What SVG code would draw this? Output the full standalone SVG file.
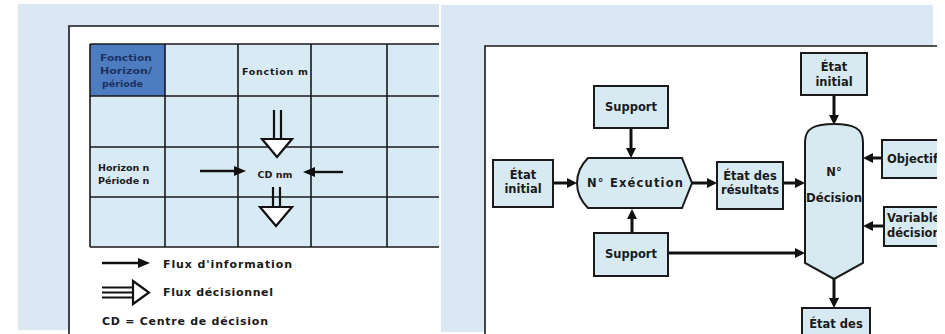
<svg xmlns="http://www.w3.org/2000/svg" width="945" height="334" viewBox="0 0 945 334">
<style>
.t{font-family:"DejaVu Sans",Verdana,sans-serif;font-weight:bold;fill:#1a1a1a}
.s8{font-size:9.5px}
.s10{font-size:11px}
.s11{font-size:11.5px}
.hd{fill:#1e3160}
.box{fill:#d7eaf2;stroke:#1a1a1a;stroke-width:2}
.grid{stroke:#1a1a1a;stroke-width:1.6;fill:none}
.ln{stroke:#111;stroke-width:3;fill:none}
.lnl{stroke:#111;stroke-width:2.4;fill:none}
.dec{stroke:#111;stroke-width:2.2;fill:none}
.tri{stroke:#111;stroke-width:2.2;fill:#ffffff}
</style>
<defs>
<marker id="ah" viewBox="0 0 10 10" markerUnits="userSpaceOnUse" markerWidth="10" markerHeight="11" refX="1" refY="5" orient="auto"><path d="M0,0 L10,5 L0,10 z" fill="#111"/></marker>
<marker id="ahs" viewBox="0 0 12 10" markerUnits="userSpaceOnUse" markerWidth="12" markerHeight="10" refX="1" refY="5" orient="auto"><path d="M0,0 L12,5 L0,10 z" fill="#111"/></marker>
<clipPath id="clipL"><rect x="0" y="0" width="439" height="334"/></clipPath>
<clipPath id="clipR"><rect x="441" y="0" width="496" height="334"/></clipPath>
</defs>
<rect width="945" height="334" fill="#ffffff"/>
<!-- Left panel -->
<g id="left-panel" clip-path="url(#clipL)">
<rect x="18" y="4" width="421" height="326" fill="#dce7f4"/>
<rect x="70" y="27" width="375" height="320" fill="#ffffff"/>
<path d="M69,340 L69,26 L445,26" fill="none" stroke="#1a1a1a" stroke-width="1.6"/>
<g id="grid">
<rect x="90" y="44" width="360" height="203" fill="#d8ebf4"/>
<rect x="90" y="44" width="75" height="52" fill="#4d7dc0"/>
<path class="grid" d="M90,44 H445 M90,96 H445 M90,147 H445 M90,197 H445 M90,247 H445 M90,44 V247 M165,44 V247 M238,44 V247 M311,44 V247 M387,44 V247"/>
</g>
<g id="header-cell">
<text class="t s8 hd" x="100" y="61" textLength="52" lengthAdjust="spacingAndGlyphs">Fonction</text>
<text class="t s8 hd" x="100" y="74" textLength="52" lengthAdjust="spacingAndGlyphs">Horizon/</text>
<text class="t s8 hd" x="102" y="87">période</text>
</g>
<g id="fonction-m"><text class="t s8" x="275" y="75" text-anchor="middle" textLength="66" lengthAdjust="spacing">Fonction m</text></g>
<g id="horizon-n">
<text class="t s8" x="98" y="171">Horizon n</text>
<text class="t s8" x="98" y="184">Période n</text>
</g>
<g id="cd-nm"><text class="t s8" x="275" y="178" text-anchor="middle">CD nm</text></g>
<g id="left-connectors">
<line class="lnl" x1="200" y1="171" x2="235" y2="171" marker-end="url(#ahs)"/>
<line class="lnl" x1="343" y1="172" x2="314" y2="172" marker-end="url(#ahs)"/>
<path class="dec" d="M274,110 V139 M281,110 V139"/>
<path class="tri" d="M262,139 H292 L277,157 Z"/>
<path class="dec" d="M273,187 V207 M280,187 V207"/>
<path class="tri" d="M260,207 H292 L276,226 Z"/>
</g>
<g id="legend">
<line class="lnl" x1="102" y1="263" x2="139" y2="263" marker-end="url(#ahs)"/>
<text class="t s10" x="163" y="268" textLength="129" lengthAdjust="spacing">Flux d'information</text>
<path class="dec" d="M102,287.5 H134 M102,292.5 H134 M102,297.5 H134"/>
<path class="tri" d="M133,281 L149,292.5 L133,304 Z"/>
<text class="t s10" x="163" y="296" textLength="110" lengthAdjust="spacing">Flux décisionnel</text>
<text class="t s10" x="102" y="325" textLength="166" lengthAdjust="spacing">CD = Centre de décision</text>
</g>
</g>
<!-- Right panel -->
<g id="right-panel" clip-path="url(#clipR)">
<rect x="441" y="5" width="492" height="327" fill="#dce7f4"/>
<rect x="485" y="46" width="460" height="300" fill="#ffffff"/>
<path d="M485,340 L485,46 L945,46" fill="none" stroke="#1a1a1a" stroke-width="1.6"/>
<g id="connectors">
<line class="ln" x1="631" y1="128" x2="631" y2="149" marker-end="url(#ah)"/>
<line class="ln" x1="632" y1="233" x2="632" y2="218" marker-end="url(#ah)"/>
<line class="ln" x1="553" y1="183" x2="568" y2="183" marker-end="url(#ah)"/>
<line class="ln" x1="692" y1="183" x2="708" y2="183" marker-end="url(#ah)"/>
<line class="ln" x1="783" y1="183" x2="796" y2="183" marker-end="url(#ah)"/>
<line class="ln" x1="834" y1="95" x2="834" y2="116" marker-end="url(#ah)"/>
<line class="ln" x1="882" y1="158" x2="872" y2="158" marker-end="url(#ah)"/>
<line class="ln" x1="884" y1="226" x2="872" y2="226" marker-end="url(#ah)"/>
<line class="ln" x1="668" y1="253" x2="796" y2="253" marker-end="url(#ah)"/>
<line class="ln" x1="834" y1="279" x2="834" y2="299" marker-end="url(#ah)"/>
</g>
<g id="support-top">
<rect class="box" x="594" y="86" width="74" height="42"/>
<text class="t s11" x="631" y="111" text-anchor="middle">Support</text>
</g>
<g id="etat-initial-left">
<rect class="box" x="493" y="160" width="60" height="47"/>
<text class="t s11" x="523" y="179" text-anchor="middle">État</text>
<text class="t s11" x="523" y="193" text-anchor="middle">initial</text>
</g>
<g id="execution">
<path class="box" d="M588,158 L682,158 L692,183 L682,208 L588,208 Q577,197 577,183 Q577,169 588,158 Z"/>
<text class="t s11" x="635" y="187" text-anchor="middle" textLength="96" lengthAdjust="spacing">N°  Exécution</text>
</g>
<g id="etat-resultats">
<rect class="box" x="717" y="162" width="66" height="47"/>
<text class="t s11" x="750" y="180" text-anchor="middle">État des</text>
<text class="t s11" x="750" y="194" text-anchor="middle">résultats</text>
</g>
<g id="support-bottom">
<rect class="box" x="594" y="233" width="74" height="43"/>
<text class="t s11" x="631" y="258" text-anchor="middle">Support</text>
</g>
<g id="etat-initial-top">
<rect class="box" x="801" y="53" width="66" height="42"/>
<text class="t s11" x="834" y="71" text-anchor="middle">État</text>
<text class="t s11" x="834" y="86" text-anchor="middle">initial</text>
</g>
<g id="decision">
<path class="box" d="M805,142 C805,128 815,124 834,124 C853,124 863,128 863,142 L863,263 L834,279 L805,263 Z"/>
<text class="t s11" x="834" y="176" text-anchor="middle">N°</text>
<text class="t s11" x="834" y="202" text-anchor="middle" textLength="56" lengthAdjust="spacingAndGlyphs">Décision</text>
</g>
<g id="objectif">
<rect class="box" x="882" y="140" width="70" height="38"/>
<text class="t s11" x="887" y="163">Objectif</text>
</g>
<g id="variable-decision">
<rect class="box" x="884" y="207" width="70" height="39"/>
<text class="t s11" x="887" y="222">Variable</text>
<text class="t s11" x="887" y="237">décision</text>
</g>
<g id="etat-decisions">
<rect class="box" x="802" y="308" width="68" height="40"/>
<text class="t s11" x="836" y="328" text-anchor="middle">État des</text>
</g>
</g>
</svg>
